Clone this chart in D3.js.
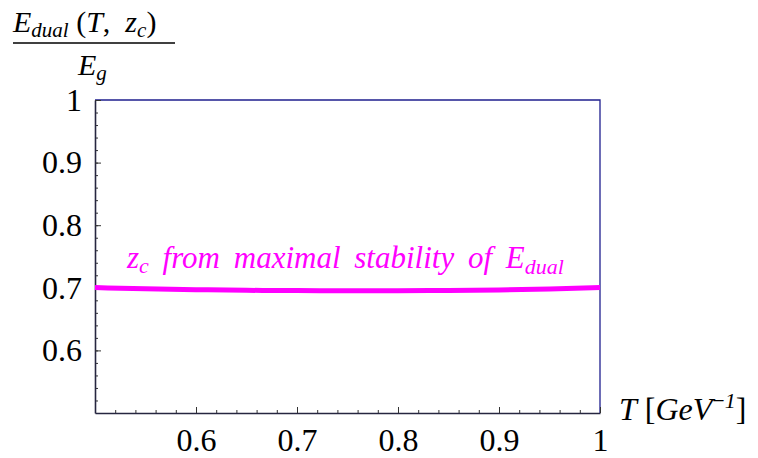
<!DOCTYPE html>
<html>
<head>
<meta charset="utf-8">
<script src="https://cdn.jsdelivr.net/npm/d3@7"></script>
<style>
  body { margin: 0; background: #fff; }
  svg text { font-family: "Liberation Serif", "Times New Roman", Times, serif !important; }
</style>
</head>
<body>
<script>
// donnees
var tValues = [0.5, 0.55, 0.6, 0.65, 0.7, 0.75, 0.8, 0.85, 0.9, 0.95, 1.0];
var ratioValues = [0.7003, 0.6984, 0.697, 0.696, 0.6955, 0.6953, 0.6954, 0.6958, 0.6966, 0.698, 0.7003];
var xMajor = [0.6, 0.7, 0.8, 0.9, 1];
var yMajor = [0.6, 0.7, 0.8, 0.9, 1];
var xMinor = d3.range(0.52, 1.0, 0.02);
var yMinor = d3.range(0.52, 1.0, 0.02);

var W = 758, H = 458;
var margin = {top: 100, right: 158, bottom: 45, left: 95},
    width = W - margin.left - margin.right,
    height = H - margin.top - margin.bottom;

var svg = d3.select("body").append("svg")
    .attr("width", W)
    .attr("height", H);

var g = svg.append("g")
    .attr("transform", "translate(" + margin.left + "," + margin.top + ")");

var x = d3.scaleLinear().domain([0.5, 1]).range([0, width]);
var y = d3.scaleLinear().domain([0.5, 1]).range([height, 0]);

function fmt(d) { return d === 1 ? "1" : d3.format(".1f")(d); }

// cadre haut et droit
g.append("path")
    .attr("d", "M0,0H" + width + "V" + height)
    .attr("fill", "none")
    .attr("stroke", "#1f1f8f")
    .attr("stroke-width", 1.3);

// axes mineurs
g.append("g")
    .attr("transform", "translate(0," + height + ")")
    .call(d3.axisBottom(x).tickValues(xMinor).tickSize(-3).tickFormat(""))
    .call(function(s) { s.select(".domain").remove(); });
g.append("g")
    .call(d3.axisLeft(y).tickValues(yMinor).tickSize(-3).tickFormat(""))
    .call(function(s) { s.select(".domain").remove(); });

// axe x
var xAxis = g.append("g")
    .attr("transform", "translate(0," + height + ")")
    .call(d3.axisBottom(x).tickValues(xMajor).tickSizeInner(-6).tickSizeOuter(0).tickPadding(15).tickFormat(fmt));
// axe y
var yAxis = g.append("g")
    .call(d3.axisLeft(y).tickValues(yMajor).tickSizeInner(-6).tickSizeOuter(0).tickPadding(13).tickFormat(fmt));

[xAxis, yAxis].forEach(function(a) {
  a.attr("font-family", null).attr("font-size", null);
  a.select(".domain").attr("stroke", "#262640").attr("stroke-width", 1.6);
  a.selectAll("text").attr("font-size", 32).attr("fill", "#000");
});
g.selectAll(".tick line").attr("stroke", "#333");

// courbe
var line = d3.line()
    .x(function(d, i) { return x(tValues[i]); })
    .y(function(d) { return y(d); })
    .curve(d3.curveMonotoneX);

g.append("path")
    .datum(ratioValues)
    .attr("d", line)
    .attr("fill", "none")
    .attr("stroke", "#ff00ff")
    .attr("stroke-width", 5);

// etiquette de la courbe
var lab = svg.append("text")
    .attr("x", 127).attr("y", 268)
    .attr("fill", "#ff00ff")
    .attr("font-size", 31)
    .attr("font-style", "italic")
    .attr("word-spacing", 6)
    .attr("xml:space", "preserve");
lab.append("tspan").text("z");
lab.append("tspan").attr("font-size", 22).attr("dy", 5).text("c");
lab.append("tspan").attr("dy", -5).text(" from maximal stability of E");
lab.append("tspan").attr("font-size", 22).attr("dy", 6).text("dual");

// titre de l'axe y (fraction)
var num = svg.append("text")
    .attr("x", 13).attr("y", 32)
    .attr("font-size", 30)
    .attr("xml:space", "preserve");
num.append("tspan").attr("font-style", "italic").text("E");
num.append("tspan").attr("font-style", "italic").attr("font-size", 21).attr("dy", 5).text("dual");
num.append("tspan").attr("dy", -5).text(" (");
num.append("tspan").attr("font-style", "italic").text("T");
num.append("tspan").text(",  ");
num.append("tspan").attr("font-style", "italic").text("z");
num.append("tspan").attr("font-style", "italic").attr("font-size", 21).attr("dy", 5).text("c");
num.append("tspan").attr("dy", -5).text(")");

svg.append("line")
    .attr("x1", 13).attr("x2", 175)
    .attr("y1", 43).attr("y2", 43)
    .attr("stroke", "#000").attr("stroke-width", 1.5);

var den = svg.append("text")
    .attr("x", 78).attr("y", 75)
    .attr("font-size", 30)
    .attr("font-style", "italic");
den.append("tspan").text("E");
den.append("tspan").attr("font-size", 21).attr("dy", 5).text("g");

// titre de l'axe x
var xl = svg.append("text")
    .attr("x", 619).attr("y", 420)
    .attr("font-size", 32)
    .attr("xml:space", "preserve");
xl.append("tspan").attr("font-style", "italic").text("T");
xl.append("tspan").text(" [");
xl.append("tspan").attr("font-style", "italic").text("GeV");
xl.append("tspan").attr("font-size", 22).attr("dy", -12).text("\u2212");
xl.append("tspan").attr("font-size", 22).attr("font-style", "italic").text("1");
xl.append("tspan").attr("dy", 12).text("]");
</script>
</body>
</html>
